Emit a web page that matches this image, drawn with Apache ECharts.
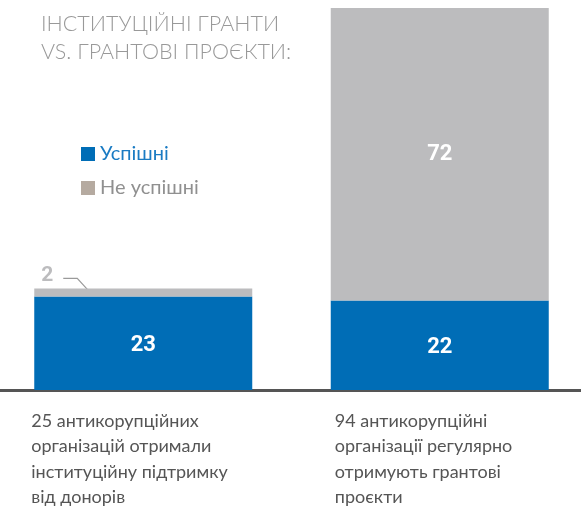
<!DOCTYPE html>
<html>
<head>
<meta charset="utf-8">
<script src="https://cdn.jsdelivr.net/npm/echarts@6/dist/echarts.min.js"></script>
<style>
  html, body { margin: 0; padding: 0; background: #fff; }
  #chart { width: 581px; height: 512px; }
</style>
</head>
<body>
<div id="chart"></div>
<script>
// дані
var categories = ['Інституційні гранти', 'Грантові проєкти'];
var successful = [23, 22];
var unsuccessful = [2, 72];
var descriptions = [
  '25 антикорупційних\nорганізацій отримали\nінституційну підтримку\nвід донорів',
  '94 антикорупційні\nорганізації регулярно\nотримують грантові\nпроєкти'
];

var myChart = echarts.init(document.getElementById('chart'));

var option = {
  animation: false,
  title: {
    text: 'ІНСТИТУЦІЙНІ ГРАНТИ\nVS. ГРАНТОВІ ПРОЄКТИ:',
    left: 36,
    top: 5,
    textStyle: {
      fontFamily: 'Lato',
      fontWeight: 300,
      fontSize: 21.5,
      lineHeight: 28,
      color: '#999'
    }
  },
  legend: {
    orient: 'vertical',
    left: 76,
    top: 139,
    itemWidth: 14,
    itemHeight: 14,
    itemGap: 14,
    icon: 'rect',
    textStyle: { fontFamily: 'Lato', fontSize: 20 },
    data: [
      { name: 'Успішні', itemStyle: { color: '#006db6' }, textStyle: { color: '#1a7bc3' } },
      { name: 'Не успішні', itemStyle: { color: '#b5aaa0' }, textStyle: { color: '#909090' } }
    ]
  },
  grid: { left: -5, width: 593, top: 8, bottom: 122, outerBoundsMode: 'none' },
  xAxis: {
    type: 'category',
    data: categories,
    axisLine: { show: true, lineStyle: { color: '#555', width: 3 } },
    axisTick: { show: false },
    axisLabel: { show: false }
  },
  yAxis: {
    type: 'value',
    min: 0,
    max: 94,
    show: false,
    splitLine: { show: false }
  },
  series: [
    {
      name: 'Успішні',
      type: 'bar',
      stack: 'total',
      barWidth: 218,
      itemStyle: { color: '#006db6' },
      label: {
        show: true,
        position: 'inside',
        offset: [0, 2],
        color: '#fff',
        fontFamily: 'Roboto',
        fontWeight: 'bold',
        fontSize: 22
      },
      data: successful
    },
    {
      name: 'Не успішні',
      type: 'bar',
      stack: 'total',
      barWidth: 218,
      itemStyle: { color: '#bcbcbe' },
      label: {
        show: true,
        position: 'inside',
        color: '#fff',
        fontFamily: 'Roboto',
        fontWeight: 'bold',
        fontSize: 22
      },
      data: [
        {
          value: unsuccessful[0],
          label: { position: 'insideTop', offset: [-96, -28], color: '#bcbcbe', fontSize: 21 }
        },
        unsuccessful[1]
      ]
    }
  ]
};
myChart.setOption(option);

// виноска для малого сегмента та підписи під стовпцями
var top0 = myChart.convertToPixel({ seriesIndex: 1 }, [0, successful[0] + unsuccessful[0]]);
var graphics = [
  {
    type: 'polyline',
    shape: { points: [[top0[0] - 80, top0[1] - 10], [top0[0] - 66, top0[1] - 10], [top0[0] - 55, top0[1] + 2]] },
    style: { stroke: '#9a9a9a', lineWidth: 1.2, fill: null }
  }
];
var textOffsets = [-112, -105];
categories.forEach(function (c, i) {
  var p = myChart.convertToPixel({ xAxisIndex: 0, yAxisIndex: 0 }, [i, 0]);
  graphics.push({
    type: 'text',
    left: p[0] + textOffsets[i],
    top: p[1] + 18,
    style: {
      text: descriptions[i],
      fontFamily: 'Lato',
      fontSize: 18,
      lineHeight: 25.5,
      fill: '#555'
    }
  });
});
myChart.setOption({ graphic: graphics });
</script>
</body>
</html>
